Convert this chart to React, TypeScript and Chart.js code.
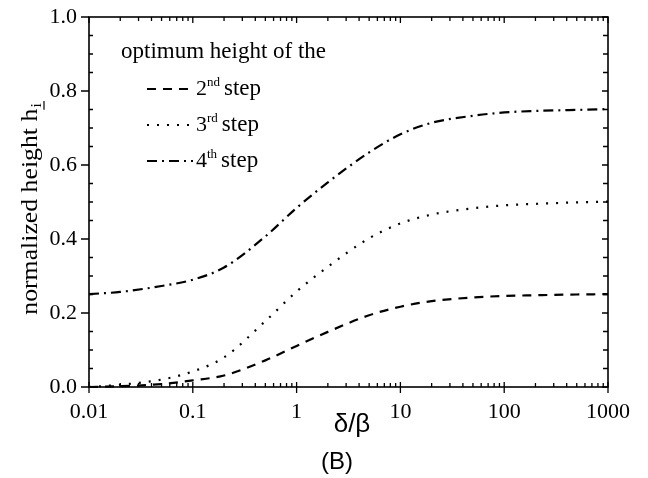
import React, { useEffect, useRef } from 'react';
import { Chart, registerables } from 'chart.js';

Chart.register(...registerables);

// ---- data ----
const DELTA_BETA = [0.01, 0.02, 0.05, 0.1, 0.2, 0.5, 1, 2, 5, 10, 20, 50, 100, 200, 500, 1000];
const STEP2 = [0.0, 0.002, 0.008, 0.018, 0.031, 0.072, 0.111, 0.149, 0.194, 0.217, 0.232, 0.242, 0.246, 0.248, 0.25, 0.251];
const STEP3 = [0.0, 0.006, 0.02, 0.042, 0.08, 0.178, 0.258, 0.325, 0.402, 0.442, 0.466, 0.483, 0.491, 0.495, 0.499, 0.501];
const STEP4 = [0.251, 0.257, 0.273, 0.29, 0.323, 0.407, 0.484, 0.553, 0.634, 0.683, 0.714, 0.733, 0.742, 0.746, 0.749, 0.751];

const X_TICK_LABELS = ['0.01', '0.1', '1', '10', '100', '1000'];
const SERIES_NUM = ['2', '3', '4'];
const SERIES_SUP = ['nd', 'rd', 'th'];
const SERIES_WORD = 'step';
const LEGEND_TITLE = 'optimum height of the';
const X_TITLE = 'δ/β';
const PANEL_LABEL = '(B)';
const Y_TITLE = 'normalized height h';
const Y_TITLE_SUB = 'i';

const DASHES = [
  [9, 7],
  [2, 8],
  [10, 5, 2, 5],
];

const SERIF = '"Liberation Serif", "Times New Roman", serif';
const SANS = '"Liberation Sans", Arial, sans-serif';

const decorPlugin = {
  id: 'decor',
  afterDraw(chart: any) {
    const { ctx, chartArea: a, scales } = chart;
    const xs = scales.x;
    const ys = scales.y;
    ctx.save();
    ctx.strokeStyle = '#000';
    ctx.fillStyle = '#000';
    ctx.setLineDash([]);
    ctx.lineWidth = 1.6;
    ctx.strokeRect(a.left, a.top, a.right - a.left, a.bottom - a.top);

    // x ticks (bottom + top)
    ctx.lineWidth = 1.3;
    for (let e = -2; e <= 3; e++) {
      for (let m = 1; m <= 9; m++) {
        const v = m * Math.pow(10, e);
        if (v > 1000.0001) break;
        const px = xs.getPixelForValue(v);
        const major = m === 1;
        ctx.beginPath();
        if (major) {
          ctx.moveTo(px, a.bottom - 5);
          ctx.lineTo(px, a.bottom + 6);
          ctx.moveTo(px, a.top);
          ctx.lineTo(px, a.top + 6);
        } else {
          ctx.moveTo(px, a.bottom);
          ctx.lineTo(px, a.bottom - 4);
          ctx.moveTo(px, a.top);
          ctx.lineTo(px, a.top + 4);
        }
        ctx.stroke();
      }
    }
    // y ticks (left + right)
    for (let i = 0; i <= 20; i++) {
      const v = i * 0.05;
      const py = ys.getPixelForValue(v);
      const major = i % 4 === 0;
      ctx.beginPath();
      if (major) {
        ctx.moveTo(a.left - 8, py);
        ctx.lineTo(a.left, py);
        ctx.moveTo(a.right, py);
        ctx.lineTo(a.right - 6, py);
      } else {
        ctx.moveTo(a.left, py);
        ctx.lineTo(a.left + 4, py);
        ctx.moveTo(a.right, py);
        ctx.lineTo(a.right - 5, py);
      }
      ctx.stroke();
    }

    // y title (rotated) with underlined subscript
    ctx.save();
    ctx.translate(37, 209);
    ctx.rotate(-Math.PI / 2);
    ctx.scale(1.12, 1);
    ctx.font = `23px ${SERIF}`;
    const mainW = ctx.measureText(Y_TITLE).width;
    ctx.font = `14px ${SERIF}`;
    const subW = ctx.measureText(Y_TITLE_SUB).width;
    const total = mainW + subW + 1;
    const x0 = -total / 2;
    ctx.textBaseline = 'alphabetic';
    ctx.textAlign = 'left';
    ctx.font = `23px ${SERIF}`;
    ctx.fillText(Y_TITLE, x0, 0);
    ctx.font = `14px ${SERIF}`;
    ctx.fillText(Y_TITLE_SUB, x0 + mainW + 1, 4);
    ctx.lineWidth = 1.2;
    ctx.beginPath();
    ctx.moveTo(x0 + mainW - 1, 7);
    ctx.lineTo(x0 + mainW + subW + 3, 7);
    ctx.stroke();
    ctx.restore();

    // x title and panel label
    ctx.textAlign = 'center';
    ctx.textBaseline = 'alphabetic';
    ctx.font = `26px ${SANS}`;
    ctx.fillText(X_TITLE, 352, 432);
    ctx.font = `24px ${SANS}`;
    ctx.fillText(PANEL_LABEL, 337, 469);

    // legend
    ctx.textAlign = 'left';
    ctx.font = `23px ${SERIF}`;
    ctx.fillText(LEGEND_TITLE, 121, 58);
    const rowBase = [95, 131, 167];
    for (let i = 0; i < 3; i++) {
      const yb = rowBase[i];
      const ly = yb - 6;
      ctx.save();
      ctx.lineWidth = 2.2;
      ctx.setLineDash(DASHES[i]);
      ctx.beginPath();
      ctx.moveTo(147, ly);
      ctx.lineTo(193, ly);
      ctx.stroke();
      ctx.restore();
      ctx.font = `22px ${SERIF}`;
      ctx.fillText(SERIES_NUM[i], 196, yb);
      const nW = ctx.measureText(SERIES_NUM[i]).width;
      ctx.font = `13px ${SERIF}`;
      ctx.fillText(SERIES_SUP[i], 196 + nW, yb - 9);
      const sW = ctx.measureText(SERIES_SUP[i]).width;
      ctx.font = `23px ${SERIF}`;
      ctx.fillText(SERIES_WORD, 196 + nW + sW + 4, yb);
    }
    ctx.restore();
  },
};

export default function App() {
  const ref = useRef<HTMLCanvasElement | null>(null);
  useEffect(() => {
    if (!ref.current) return;
    const series = [STEP2, STEP3, STEP4];
    const chart = new Chart(ref.current, {
      type: 'line',
      data: {
        datasets: series.map((s, i) => ({
          label: SERIES_NUM[i] + SERIES_SUP[i] + ' ' + SERIES_WORD,
          data: DELTA_BETA.map((x, j) => ({ x, y: s[j] })),
          borderColor: '#000',
          backgroundColor: '#000',
          borderWidth: 2.2,
          borderDash: DASHES[i],
          pointRadius: 0,
          fill: false,
          cubicInterpolationMode: 'monotone' as const,
          clip: false as any,
        })),
      },
      options: {
        responsive: false,
        animation: false,
        devicePixelRatio: 1,
        layout: { padding: { top: 17, right: 40, left: 0, bottom: 0 } },
        plugins: { legend: { display: false }, tooltip: { enabled: false } },
        scales: {
          x: {
            type: 'logarithmic',
            min: 0.01,
            max: 1000,
            grid: { display: false, drawTicks: false },
            border: { display: false },
            afterFit: (s: any) => {
              s.height = 91;
              s.paddingLeft = 0;
              s.paddingRight = 0;
            },
            ticks: {
              autoSkip: false,
              maxRotation: 0,
              minRotation: 0,
              padding: 12,
              color: '#000',
              font: { family: SERIF, size: 22 },
              callback: (v: any) => {
                const l = Math.log10(Number(v));
                const r = Math.round(l);
                if (Math.abs(l - r) > 1e-6) return '';
                return X_TICK_LABELS[r + 2] ?? '';
              },
            },
          },
          y: {
            type: 'linear',
            min: 0,
            max: 1,
            grid: { display: false, drawTicks: false },
            border: { display: false },
            afterFit: (s: any) => {
              s.width = 89;
              s.paddingTop = 0;
              s.paddingBottom = 0;
            },
            ticks: {
              stepSize: 0.2,
              padding: 12,
              color: '#000',
              font: { family: SERIF, size: 22 },
              callback: (v: any) => Number(v).toFixed(1),
            },
          },
        },
      },
      plugins: [decorPlugin],
    });
    return () => chart.destroy();
  }, []);
  return (
    <div style={{ position: 'absolute', left: 0, top: 0, width: 648, height: 478, background: '#fff' }}>
      <canvas ref={ref} width={648} height={478} style={{ display: 'block' }} />
    </div>
  );
}
